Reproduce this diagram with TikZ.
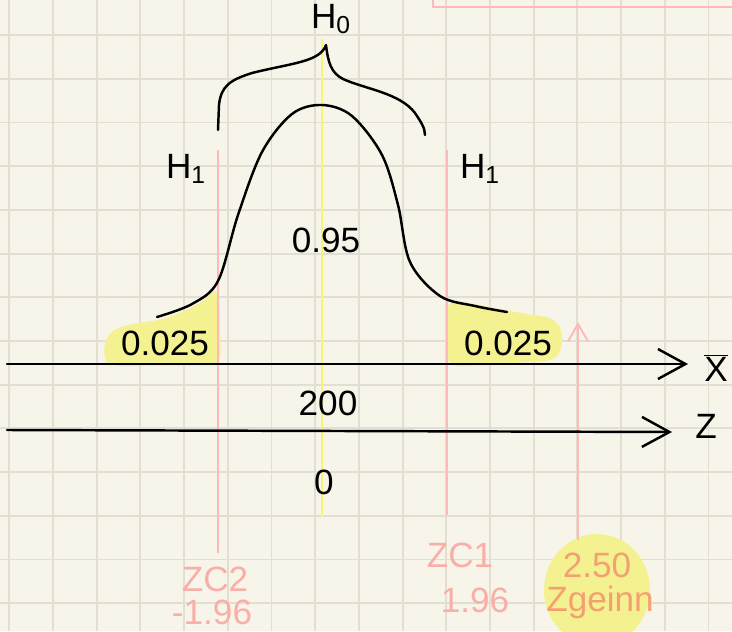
\documentclass[tikz,border=0pt]{standalone}
\usepackage{fontspec}
\setmainfont{Liberation Sans}
\usepackage{tikz}
\usetikzlibrary{arrows.meta,positioning}
\definecolor{paper}{HTML}{F7F5EA}
\definecolor{gridgray}{HTML}{E2DFD2}
\definecolor{penpink}{HTML}{FFB9B9}
\definecolor{inkpink}{HTML}{F9AFA8}
\definecolor{inkorange}{HTML}{F4A070}
\definecolor{hiyellow}{HTML}{F4F190}
\definecolor{lineyellow}{HTML}{F8F474}
\tikzset{
  gridline/.style={gridgray,line width=1.1pt},
  inkline/.style={black,line width=1.4pt,line cap=round,line join=round},
  pinkline/.style={penpink,line width=1.1pt},
  axisline/.style={inkline,-{Straight Barb[length=5.5mm,width=6mm,line width=1.4pt]}},
  hilite/.style={fill=hiyellow,rounded corners=6pt},
  lbl/.style={inner sep=0pt,font=\fontsize{20}{22}\selectfont},
  pinklbl/.style={lbl,text=inkpink},
}
\begin{document}
\begin{tikzpicture}[x=0.02cm,y=-0.02cm]
  \useasboundingbox (0,0) rectangle (732,631);
  \fill[paper] (0,0) rectangle (732,631);
  % squared paper
  \foreach \i in {0,...,16}
    \draw[gridline] ({9.3+43.7*\i},0) -- ({9.3+43.7*\i},631);
  \foreach \j in {0,...,13}
    \draw[gridline] (0,{35.1+43.7*\j}) -- (732,{35.1+43.7*\j});
  \draw[pinkline] (433,-10) -- (433,7) -- (740,7);
  % highlighted tails
  \fill[hilite] (103,360) -- (106,334) -- (125,325) -- (165,319) -- (200,304)
    -- (219,286) -- (221,365) -- (110,366) -- cycle;
  \fill[hilite] (447,300) -- (480,305) -- (520,313) -- (555,318) -- (564,335)
    -- (558,360) -- (470,366) -- (447,366) -- cycle;
  \fill[hiyellow] (597,590) ellipse [x radius=53, y radius=56];
  % vertical markers
  \coordinate (mTop) at (322,39);
  \coordinate (mBot) at (322,517);
  \draw[lineyellow,line width=1.1pt] (mTop) -- (mBot);
  \coordinate (zcTwoT) at (218,150);
  \coordinate (zcTwoB) at (218,553);
  \coordinate (zcOneT) at (447,150);
  \coordinate (zcOneB) at (447,515);
  \coordinate (zgT) at (578,322);
  \coordinate (zgB) at (578,540);
  \draw[pinkline] (zcTwoT) -- (zcTwoB);
  \draw[pinkline] (zcOneT) -- (zcOneB);
  \draw[pinkline,-{Straight Barb[length=3.5mm,width=4mm,line width=1.1pt]}] (zgB) -- (zgT);
  % bell curve
  \draw[inkline] plot[smooth,tension=0.55] coordinates {(157,317) (192,304) (218,281)
    (238,215) (262,152) (292,114) (322,105) (352,116) (382,155) (398,205)
    (410,262) (440,296) (475,306) (507,312)};
  % brace for H0
  \draw[inkline] (218,130) -- (219,105) .. controls (221,86) and (230,80) .. (252,73)
    .. controls (292,63) and (320,62) .. (326,45)
    .. controls (328,62) and (331,73) .. (343,79)
    .. controls (365,89) and (400,93) .. (415,113)
    .. controls (421,122) and (425,128) .. (425,135);
  % axes
  \coordinate (xbL) at (7,364);
  \coordinate (xbR) at (688,364);
  \coordinate (zL) at (7,430);
  \coordinate (zR) at (672,432);
  \draw[axisline] (xbL) -- (xbR);
  \draw[axisline] (zL) -- (zR);
  % labels
  \node[lbl] (nH0) at (331,19) {H\textsubscript{0}};
  \node[lbl] (nH1L) at (186,169) {H\textsubscript{1}};
  \node[lbl] (nH1R) at (480,169) {H\textsubscript{1}};
  \node[lbl] (nMid) at (326,240) {0.95};
  \node[lbl] (nTailL) at (165,343) {0.025};
  \node[lbl] (nTailR) at (508,343) {0.025};
  \node[lbl] (nXbar) at (716,368) {$\overline{\mathrm{X}}$};
  \node[lbl] (nZ) at (706,426) {Z};
  \node[lbl] (nMean) at (328,403) {200};
  \node[lbl] (nZero) at (324,482) {0};
  \node[pinklbl] (nZcTwo) at (215,579) {ZC2};
  \node[pinklbl] (nZcTwoV) at (212,612) {-1.96};
  \node[pinklbl] (nZcOne) at (460,555) {ZC1};
  \node[pinklbl] (nZcOneV) at (475,600) {1.96};
  \node[pinklbl,text=inkorange] (nZg) at (597,565) {2.50};
  \node[pinklbl,text=inkorange] (nZgName) at (600,602) {Zgeinn};
\end{tikzpicture}
\end{document}
